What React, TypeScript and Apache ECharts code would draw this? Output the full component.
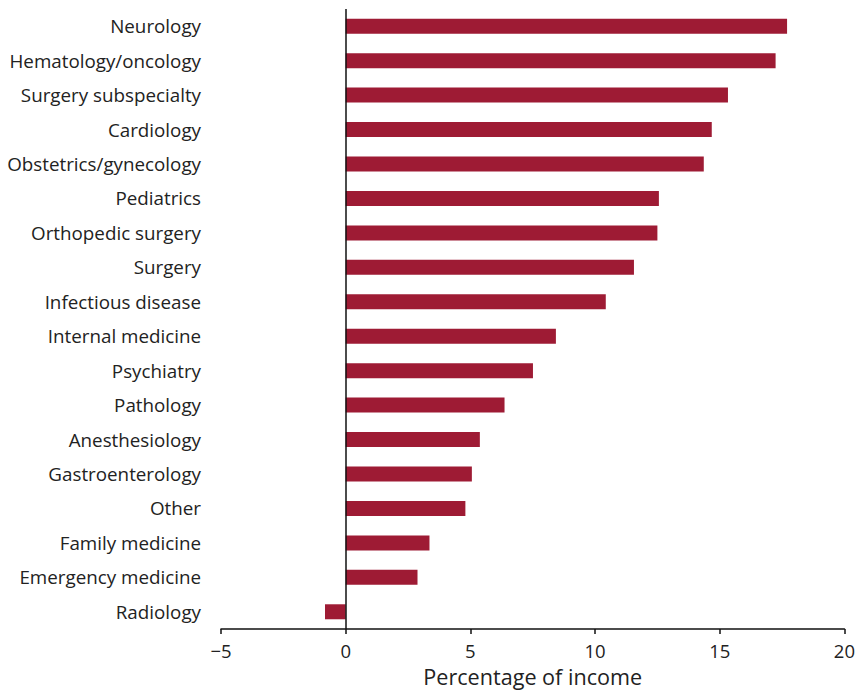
import React, { useEffect, useRef } from "react";
import * as echarts from "echarts";

const categories = [
  "Neurology",
  "Hematology/oncology",
  "Surgery subspecialty",
  "Cardiology",
  "Obstetrics/gynecology",
  "Pediatrics",
  "Orthopedic surgery",
  "Surgery",
  "Infectious disease",
  "Internal medicine",
  "Psychiatry",
  "Pathology",
  "Anesthesiology",
  "Gastroenterology",
  "Other",
  "Family medicine",
  "Emergency medicine",
  "Radiology",
];

const values = [
  17.7, 17.24, 15.33, 14.68, 14.36, 12.56, 12.5, 11.56, 10.43, 8.43, 7.51,
  6.37, 5.38, 5.06, 4.8, 3.36, 2.88, -0.83,
];

const xTicks = { min: -5, max: 20, interval: 5 };

export default function App() {
  const ref = useRef<HTMLDivElement>(null);
  useEffect(() => {
    document.body.style.margin = "0";
    const chart = echarts.init(ref.current!, null, { renderer: "svg" });
    const font = "'Open Sans', 'Noto Sans', sans-serif";
    chart.setOption({
      animation: false,
      backgroundColor: "#ffffff",
      grid: { left: 221, right: 11, top: 9, bottom: 51, containLabel: false },
      xAxis: {
        type: "value",
        min: xTicks.min,
        max: xTicks.max,
        interval: xTicks.interval,
        name: "Percentage of income",
        nameLocation: "middle",
        nameGap: 36,
        nameTextStyle: { fontFamily: font, fontSize: 21.6, color: "#222" },
        axisLine: { show: true, onZero: false, lineStyle: { color: "#111", width: 1.5 } },
        axisTick: { show: true, length: 5, lineStyle: { color: "#111", width: 1.5 } },
        axisLabel: {
          fontFamily: font,
          fontSize: 18.5,
          color: "#222",
          margin: 12,
          formatter: (v: number) => (v < 0 ? "\u2212" + Math.abs(v) : String(v)),
        },
        splitLine: { show: false },
      },
      yAxis: {
        type: "category",
        data: categories,
        inverse: true,
        axisLine: { show: false },
        axisTick: { show: false },
        axisLabel: { fontFamily: font, fontSize: 18.8, color: "#222", margin: 20 },
      },
      series: [
        {
          type: "bar",
          data: values,
          barWidth: 15,
          itemStyle: { color: "#9e1b34" },
          markLine: {
            silent: true,
            symbol: "none",
            label: { show: false },
            lineStyle: { color: "#111", width: 1.5, type: "solid" },
            data: [{ xAxis: 0 }],
          },
        },
      ],
    });
    return () => chart.dispose();
  }, []);
  return <div ref={ref} style={{ width: 858, height: 692 }} />;
}
